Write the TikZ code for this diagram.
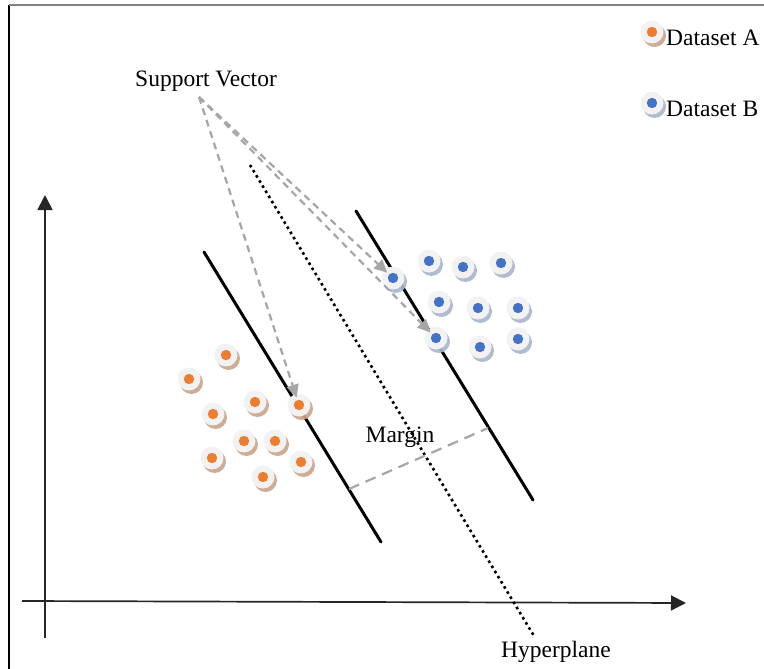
\documentclass[tikz,border=0pt]{standalone}
\usepackage{fontspec}
\setmainfont{Liberation Serif}
\usetikzlibrary{arrows.meta,shadows}

\definecolor{ptorange}{HTML}{ED7D31}
\definecolor{ptblue}{HTML}{4472C4}
\definecolor{shadeorange}{HTML}{C9A48B}
\definecolor{shadeblue}{HTML}{A9B5CC}
\definecolor{discgray}{HTML}{F2F2F2}
\definecolor{guidegray}{HTML}{A6A6A6}
\definecolor{framegray}{HTML}{808080}

\begin{document}
\begin{tikzpicture}[x=1pt,y=-1pt,
  ptbase/.style={circle, inner sep=0pt, minimum size=23pt, fill=discgray},
  ptA/.style={ptbase,
    drop shadow={shadow xshift=2.5pt, shadow yshift=-3.5pt, fill=shadeorange, opacity=0.9},
    path picture={\fill[ptorange] (path picture bounding box.center) circle (5.2pt);}},
  ptB/.style={ptbase,
    drop shadow={shadow xshift=2.5pt, shadow yshift=-3.5pt, fill=shadeblue, opacity=0.9},
    path picture={\fill[ptblue] (path picture bounding box.center) circle (5.2pt);}},
  txt/.style={font=\fontsize{23.5}{28}\selectfont, inner sep=0pt, text=black},
  axis/.style={line width=1.7pt, draw=black!85, -{Triangle[length=15pt,width=15pt]}},
  boundary/.style={line width=3pt, black, line cap=round},
  hyper/.style={line width=2.6pt, black, dash pattern=on 2.6pt off 3.4pt},
  marginline/.style={line width=2.2pt, guidegray, dash pattern=on 11pt off 7pt},
  svarrow/.style={line width=2.2pt, guidegray, dash pattern=on 7pt off 5pt,
    -{Triangle[length=13pt,width=12pt]}, shorten >=-4pt}
]
\useasboundingbox (0,0) rectangle (764,669);
\fill[white] (0,0) rectangle (764,669);

% frame
\draw[line width=1.5pt, black] (9,669) -- (9,5);
\draw[line width=1.6pt, framegray] (9,5) -- (764,5);

% axes
\coordinate (xo) at (22,601);
\coordinate (xe) at (686,603);
\coordinate (yo) at (45,638);
\coordinate (ye) at (45,195);
\draw[axis] (xo) -- (xe);
\draw[axis] (yo) -- (ye);

% separating lines
\coordinate (l1) at (204,252);
\coordinate (l2) at (381,542);
\coordinate (r1) at (356,211);
\coordinate (r2) at (533,500);
\coordinate (h1) at (250,165);
\coordinate (h2) at (534,636);
\draw[boundary] (l1) -- (l2);
\draw[boundary] (r1) -- (r2);
\draw[hyper] (h1) -- (h2);

% margin width
\coordinate (m1) at (349,489);
\coordinate (m2) at (488,428);
\draw[marginline] (m1) -- (m2);

% dataset A
\node[ptA] (a1) at (226,355) {};
\node[ptA] (a2) at (189,379) {};
\node[ptA] (a3) at (255,402) {};
\node[ptA] (a4) at (213,414) {};
\node[ptA] (a5) at (299,405) {};
\node[ptA] (a6) at (244,441) {};
\node[ptA] (a7) at (275,441) {};
\node[ptA] (a8) at (212,458) {};
\node[ptA] (a9) at (301,462) {};
\node[ptA] (a10) at (263,477) {};

% dataset B
\node[ptB] (b1) at (393,278) {};
\node[ptB] (b2) at (429,261) {};
\node[ptB] (b3) at (463,267) {};
\node[ptB] (b4) at (501,263) {};
\node[ptB] (b5) at (439,302) {};
\node[ptB] (b6) at (478,308) {};
\node[ptB] (b7) at (518,308) {};
\node[ptB] (b8) at (436,338) {};
\node[ptB] (b9) at (480,347) {};
\node[ptB] (b10) at (518,339) {};

% support vector pointers
\coordinate (sv) at (199,97);
\draw[svarrow] (sv) -- (a5);
\draw[svarrow] (sv) -- (b1);
\draw[svarrow] (sv) -- (b8);

% labels
\node[txt, anchor=base] (svlabel) at (206,87) {Support Vector};
\node[txt, anchor=base] (marginlabel) at (400,442) {Margin};
\node[txt, anchor=base] (hyperlabel) at (556,657) {Hyperplane};

% legend
\node[ptA] (keyA) at (652,32) {};
\node[txt, anchor=base west] (keyAtext) at (666,46) {Dataset A};
\node[ptB] (keyB) at (652,103) {};
\node[txt, anchor=base west] (keyBtext) at (666,117) {Dataset B};
\end{tikzpicture}
\end{document}
